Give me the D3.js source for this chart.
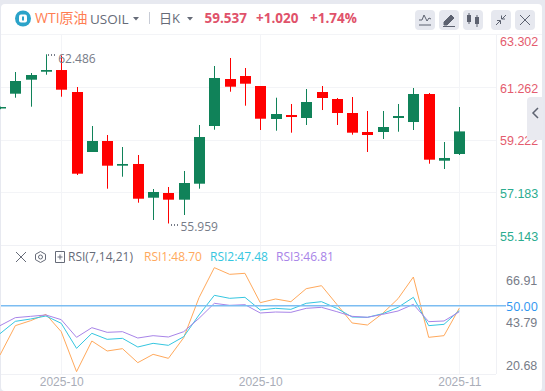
<!DOCTYPE html>
<html>
<head>
<meta charset="utf-8">
<script src="https://cdn.jsdelivr.net/npm/d3@7/dist/d3.min.js"></script>
<style>
html, body { margin: 0; padding: 0; background: #fff; overflow: hidden; }
svg { display: block; font-family: "Open Sans", "Noto Sans CJK SC", sans-serif; }
.axis path, .axis line { display: none; }
</style>
</head>
<body>
<svg class="chart" width="545" height="391"></svg>
<script>
// candles, first one is cut off by the left edge
const index = d3.range(-1, 30);
const open = [60.45, 61.002, 61.546, 61.856, 61.922, 61.068, 58.737, 59.164, 58.205, 58.271, 56.961, 57.144, 56.884, 57.505, 59.747, 61.573, 61.689, 61.301, 60.019, 60.174, 60.058, 61.068, 60.796, 60.252, 59.514, 59.514, 60.058, 59.902, 60.99, 58.399, 58.659];
const close = [60.485, 61.495, 61.728, 61.922, 61.157, 57.894, 59.164, 58.205, 58.271, 56.922, 57.183, 56.884, 57.532, 59.319, 61.612, 61.274, 61.39, 60.03, 60.213, 60.096, 60.679, 60.835, 60.252, 59.487, 59.397, 59.708, 60.135, 60.99, 58.438, 58.504, 59.537];
const high = [60.5, 61.845, 61.806, 62.532, 62.486, 61.262, 59.747, 59.397, 58.931, 58.62, 57.299, 57.377, 57.999, 59.786, 62.078, 62.389, 62, 61.301, 60.846, 60.602, 61.184, 61.301, 60.835, 60.873, 60.33, 60.33, 60.602, 61.223, 61.029, 59.125, 60.485];
const low = [60.4, 60.846, 60.497, 61.74, 60.885, 57.843, 58.737, 57.311, 57.777, 56.767, 56.095, 55.959, 56.289, 57.311, 59.603, 61.079, 60.536, 59.591, 59.564, 59.487, 59.786, 60.368, 59.786, 59.409, 58.737, 59.242, 59.525, 59.591, 58.282, 58.076, 58.62];

const rsi1 = [24.05, 39.49, 42.12, 45.46, 36.33, 15.28, 31.42, 26.16, 27.39, 20.02, 24.4, 22.3, 33.18, 54.23, 70.02, 66.51, 67.04, 51.6, 53.53, 52.12, 58.96, 60.54, 50.72, 40.9, 39.84, 45.98, 53.7, 65.1, 33.35, 34.23, 48.7];
const rsi2 = [35.28, 41.77, 43, 44.58, 40.72, 27.56, 35.46, 32.3, 32.82, 28.26, 30.19, 29.14, 33.7, 45.11, 55.46, 53.88, 54.4, 47.74, 48.61, 48.09, 51.25, 52.12, 48.61, 44.05, 43.88, 45.81, 49.14, 54.4, 39.49, 40.19, 47.48];
const rsi3 = [39.49, 43.7, 44.4, 45.11, 42.65, 33.35, 38.44, 35.98, 36.33, 33, 34.23, 33.53, 36.33, 43.35, 51.25, 50.19, 50.54, 46.16, 46.68, 46.51, 48.61, 49.14, 46.86, 44.4, 43.88, 45.46, 47.21, 50.72, 41.6, 41.95, 46.81];

const priceTicks = [63.302, 61.262, 59.222, 57.183, 55.143];
const rsiTicks = [66.91, 43.79, 20.68];
const dateTicks = [3, 16, 29];
const dateLabels = ['2025-10', '2025-10', '2025-11'];

const red = '#ff0000';
const green = '#108259';
const grid = '#f3f4f7';

const x = d3.scaleLinear().domain([-1, 29]).range([0, 459.3]);
const y = d3.scaleLinear().domain([55.143, 63.302]).range([244.5, 34.5]);
const yRsi = d3.scaleLinear().domain([20, 70]).range([362.7, 267.7]);
// the rsi axis labels do not sit on the line scale in the original
const yRsiLabel = d3.scaleLinear().domain([20.68, 66.91]).range([365, 280]);

const svg = d3.select('.chart');

// card
svg.append('rect').attr('width', 545).attr('height', 391).attr('fill', '#e7e9f0');
svg.append('rect').attr('x', 1).attr('y', 4).attr('width', 541).attr('height', 387).attr('rx', 4).attr('fill', '#fff');

// grid
svg.append('g').selectAll('line').data([61.262, 59.222, 57.183]).join('line')
  .attr('x1', 1).attr('x2', 496).attr('y1', d => Math.round(y(d)) + 0.5).attr('y2', d => Math.round(y(d)) + 0.5)
  .attr('stroke', grid);
svg.append('g').selectAll('line').data(dateTicks).join('line')
  .attr('x1', d => Math.round(x(d)) + 0.5).attr('x2', d => Math.round(x(d)) + 0.5)
  .attr('y1', 35).attr('y2', 374)
  .attr('stroke', grid);
[[1, 496, 34.5, 34.5], [1, 496, 245.5, 245.5], [1, 496, 374.5, 374.5], [496.5, 496.5, 35, 374]].forEach(l => {
  svg.append('line').attr('x1', l[0]).attr('x2', l[1]).attr('y1', l[2]).attr('y2', l[3]).attr('stroke', '#f0f1f5');
});

// candles
const candles = svg.append('g').selectAll('g').data(index).join('g')
  .attr('fill', (d, i) => close[i] >= open[i] ? green : red)
  .attr('stroke', (d, i) => close[i] >= open[i] ? green : red);
candles.append('line')
  .attr('x1', d => Math.round(x(d)) + 0.5).attr('x2', d => Math.round(x(d)) + 0.5)
  .attr('y1', (d, i) => y(high[i])).attr('y2', (d, i) => y(low[i]));
candles.append('rect')
  .attr('x', d => Math.round(x(d)) - 5)
  .attr('width', 11)
  .attr('y', (d, i) => y(Math.max(open[i], close[i])))
  .attr('height', (d, i) => Math.max(1.5, Math.abs(y(open[i]) - y(close[i]))))
  .attr('stroke', 'none');

// high / low markers
const marker = svg.append('g').attr('fill', '#777c88').attr('font-size', 12);
marker.append('text').attr('x', x(3) - 3).attr('y', y(62.486) + 7).text('62.486');
marker.append('text').attr('x', x(10) + 12).attr('y', y(55.959) + 8).text('55.959');
[[48, 54], [51, 54], [54, 54], [171, 224], [174, 224], [177, 224]].forEach(p => {
  marker.append('rect').attr('x', p[0]).attr('y', p[1]).attr('width', 1).attr('height', 2);
});

// price axis
const priceAxis = svg.append('g').attr('class', 'axis')
  .attr('transform', 'translate(497, 0)')
  .call(d3.axisRight(y).tickValues(priceTicks).tickSize(0).tickFormat(d3.format('.3f')));
priceAxis.selectAll('text')
  .attr('font-size', 12.5)
  .attr('fill', d => d > 58 ? '#e45c6e' : '#2bac8f')
  .attr('dy', d => d === 63.302 ? 11 : d === 55.143 ? -4 : d === 57.183 ? 6 : 5);

// rsi
const line = d3.line().x((d, i) => x(index[i])).y(d => yRsi(d));
[[rsi1, '#ffa95c'], [rsi2, '#35c6e0'], [rsi3, '#a884e8']].forEach(s => {
  svg.append('path').attr('d', line(s[0])).attr('fill', 'none').attr('stroke', s[1]).attr('stroke-width', 1);
});
svg.append('line')
  .attr('x1', 1).attr('x2', 506).attr('y1', yRsi(50)).attr('y2', yRsi(50))
  .attr('stroke', '#7cbdf2').attr('stroke-width', 1.5);

const rsiAxis = svg.append('g').attr('class', 'axis')
  .attr('transform', 'translate(503, 0)')
  .call(d3.axisRight(yRsiLabel).tickValues(rsiTicks).tickSize(0).tickFormat(d3.format('.2f')));
rsiAxis.selectAll('text').attr('font-size', 12.5).attr('fill', '#777c88');
svg.append('text').attr('x', 506).attr('y', yRsi(50) + 5).attr('font-size', 12.5).attr('fill', '#2f96f0').text('50.00');

// dates
const dateAxis = svg.append('g').attr('class', 'axis')
  .attr('transform', 'translate(0, 374)')
  .call(d3.axisBottom(x).tickValues(dateTicks).tickSize(0).tickFormat((d, i) => dateLabels[i]));
dateAxis.selectAll('text').attr('font-size', 12).attr('fill', '#a9adb8').attr('y', 3);

// rsi legend
const legend = svg.append('g').attr('font-size', 12);
legend.append('text').attr('x', 68).attr('y', 261).attr('fill', '#666b78').text('RSI(7,14,21)');
legend.append('text').attr('x', 144).attr('y', 261).attr('fill', '#ffa95c').text('RSI1:48.70');
legend.append('text').attr('x', 210).attr('y', 261).attr('fill', '#35c6e0').text('RSI2:47.48');
legend.append('text').attr('x', 276).attr('y', 261).attr('fill', '#a884e8').text('RSI3:46.81');
legend.append('path').attr('d', 'M16 252L26 262M26 252L16 262').attr('stroke', '#666b78').attr('fill', 'none');
legend.append('path').attr('d', 'M40.5 251.5L45.5 254.3V259.7L40.5 262.5L35.5 259.7V254.3Z').attr('stroke', '#666b78').attr('fill', 'none');
legend.append('circle').attr('cx', 40.5).attr('cy', 257).attr('r', 2).attr('stroke', '#666b78').attr('fill', 'none');
legend.append('path').attr('d', 'M55.5 251.5H64.5V262.5H55.5ZM57.5 257H62.5M60 254.5V259.5').attr('stroke', '#666b78').attr('fill', 'none');

// header
svg.append('line').attr('x1', 1).attr('x2', 542).attr('y1', 34.5).attr('y2', 34.5).attr('stroke', '#f3f4f7');
svg.append('circle').attr('cx', 23).attr('cy', 18.5).attr('r', 8).attr('fill', '#2ba3c9');
svg.append('rect').attr('x', 19).attr('y', 14.5).attr('width', 8).attr('height', 8).attr('rx', 2).attr('fill', '#fff');
svg.append('rect').attr('x', 22).attr('y', 16.5).attr('width', 2).attr('height', 4).attr('fill', '#2ba3c9');
svg.append('text').attr('x', 35).attr('y', 23).attr('font-size', 14).attr('fill', '#ff7d52').text('WTI原油');
svg.append('text').attr('x', 90).attr('y', 24).attr('font-size', 13.5).attr('fill', '#666b78').text('USOIL');
svg.append('path').attr('d', 'M133 17h6l-3 3.5z').attr('fill', '#666b78');
svg.append('line').attr('x1', 149.5).attr('x2', 149.5).attr('y1', 12).attr('y2', 24).attr('stroke', '#c8ccd6');
svg.append('text').attr('x', 159).attr('y', 23).attr('font-size', 13).attr('fill', '#666b78').text('日K');
svg.append('path').attr('d', 'M187 17h6l-3 3.5z').attr('fill', '#666b78');
const quote = svg.append('g').attr('font-size', 13.5).attr('font-weight', 700).attr('fill', '#e0526a');
quote.append('text').attr('x', 204.5).attr('y', 23).text('59.537');
quote.append('text').attr('x', 256).attr('y', 23).text('+1.020');
quote.append('text').attr('x', 310).attr('y', 23).text('+1.74%');

// toolbar buttons
[415, 439, 463, 491, 515].forEach(bx => {
  svg.append('rect').attr('x', bx).attr('y', 10).attr('width', 20).attr('height', 20).attr('rx', 4).attr('fill', '#e6e8ef');
});
const icon = svg.append('g').attr('stroke', '#5d6270').attr('fill', 'none');
icon.append('path').attr('d', 'M419 20L422 20L424 15L427 21L429 18L431 19M419 25H431');
icon.append('path').attr('d', 'M444 22L451 15L454 18L447 25H444ZM443 26.5H455').attr('fill', '#5d6270');
icon.append('path').attr('d', 'M469 13V24M477 15V27').attr('stroke', '#5d6270');
svg.append('rect').attr('x', 467).attr('y', 15).attr('width', 4).attr('height', 7).attr('fill', '#5d6270');
svg.append('rect').attr('x', 475).attr('y', 17).attr('width', 4).attr('height', 7).attr('fill', '#5d6270');
icon.append('path').attr('d', 'M496 25L500 21M497 20.5H500.5V24M506 15L502 19M501.5 15.5V19H505');
icon.append('path').attr('d', 'M520 15L530 25M530 15L520 25');

// collapse tab on the right
svg.append('path').attr('d', 'M543 97H531Q527 97 527 101V140H543Z').attr('fill', '#e9eaf0');
svg.append('path').attr('d', 'M538 108L533 113L538 118').attr('stroke', '#5d6270').attr('stroke-width', 1.5).attr('fill', 'none');
</script>
</body>
</html>
